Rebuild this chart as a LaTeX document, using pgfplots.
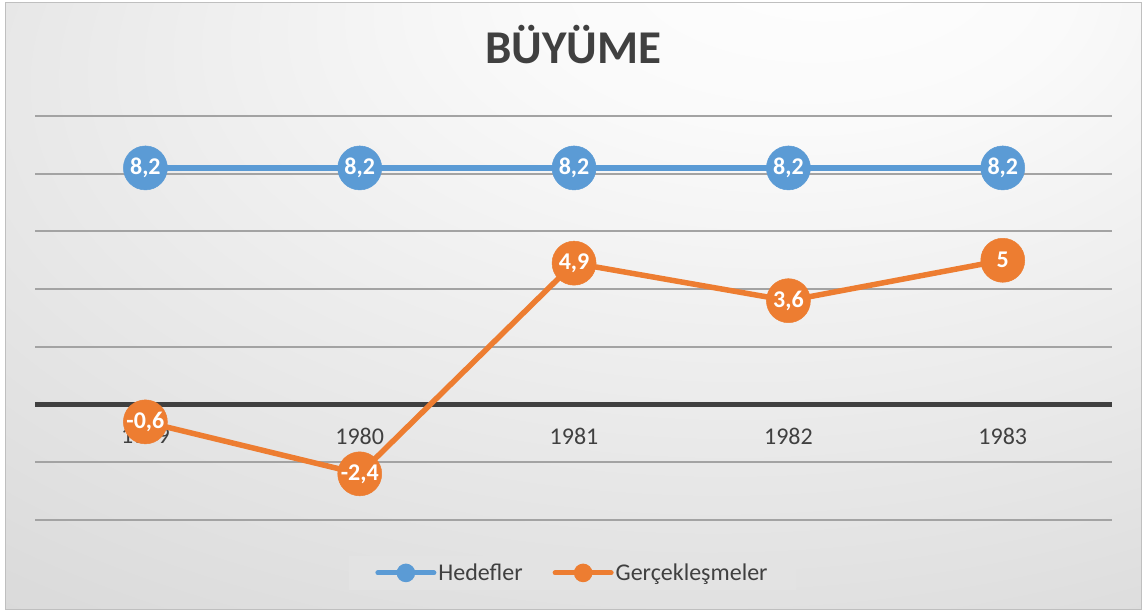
\documentclass[border=0pt]{standalone}
\usepackage{pgfplots}
\pgfplotsset{compat=1.18}
\usepackage{fontspec}
\setmainfont{Carlito}
\definecolor{cblue}{HTML}{5B9BD5}
\definecolor{corange}{HTML}{ED7D31}
\definecolor{ctext}{HTML}{404040}
\definecolor{cgrid}{HTML}{A3A3A3}
\pgfdeclareradialshading{bgshade}{\pgfpoint{12bp}{32bp}}{color(0bp)=(white); color(12bp)=(white!98!black); color(45bp)=(white!86!black); color(72bp)=(white!79!black)}
\pgfplotsset{layers/mylayers/.define layer set={axis background,axis grid,axis ticks,axis lines,pre main,main,axis tick labels,axis descriptions,axis foreground}{}}

\pgfplotstableread{
x y l
0 8.2 8,2
1 8.2 8,2
2 8.2 8,2
3 8.2 8,2
4 8.2 8,2
}\hedef
\pgfplotstableread{
x y l
0 -0.6 -0,6
1 -2.4 -2,4
2 4.9 4,9
3 3.6 3,6
4 5 5
}\gercek

\begin{document}
\begin{tikzpicture}[x=1pt,y=1pt]
\fill[white] (0,0) rectangle (1146,613);
\shade[shading=bgshade] (5,3) rectangle (1141,610);
\draw[color=white!75!black, line width=1pt] (5,3) rectangle (1141,610);
\begin{axis}[
  set layers=mylayers,
  at={(35pt,93pt)}, anchor=south west,
  scale only axis, width=1077pt, height=404pt,
  xmin=-0.515, xmax=4.51, ymin=-4, ymax=10,
  clip=false,
  axis line style={draw=none},
  xtick={0,...,4}, xticklabels={1979,1980,1981,1982,1983},
  ytick={-4,-2,2,4,6,8,10}, yticklabels={},
  major tick length=0pt,
  ymajorgrids, major grid style={cgrid, line width=2pt},
  extra y ticks={0}, extra y tick labels={},
  extra y tick style={major grid style={ctext, line width=4.5pt}},
  x tick label style={font=\fontsize{24}{28}\selectfont, text=ctext, anchor=center, yshift=84pt},
  title={BÜYÜME},
  title style={font=\bfseries\fontsize{47}{52}\selectfont, text=ctext, at={(0.5,1)}, anchor=base, yshift=46pt},
  point meta=explicit symbolic,
  nodes near coords,
  every node near coord/.append style={anchor=center, text=white, font=\bfseries\fontsize{24}{28}\selectfont},
  legend style={at={(0.499,-0.131)}, anchor=center, fill=white!89!black, draw=none,
    inner xsep=26pt, inner ysep=6pt, font=\fontsize{24}{28}\selectfont, text=ctext,
    /tikz/every even column/.append style={column sep=28pt}, nodes={inner xsep=2pt}},
  legend columns=2,
  legend image code/.code={\draw[#1, mark=none, line width=5pt, line cap=round] (0pt,0pt) -- (56pt,0pt); \fill[#1] (28pt,0pt) circle (6.5pt);},
]
\addplot[cblue, line width=5.5pt, mark=*, mark size=22pt, mark options={solid, fill=cblue, draw=cblue, line width=0.5pt}] table[x=x, y=y, meta=l] {\hedef};
\addlegendentry{Hedefler}
\addplot[corange, line width=5.5pt, mark=*, mark size=22pt, mark options={solid, fill=corange, draw=corange, line width=0.5pt}] table[x=x, y=y, meta=l] {\gercek};
\addlegendentry{Gerçekleşmeler}
\end{axis}
\end{tikzpicture}
\end{document}
